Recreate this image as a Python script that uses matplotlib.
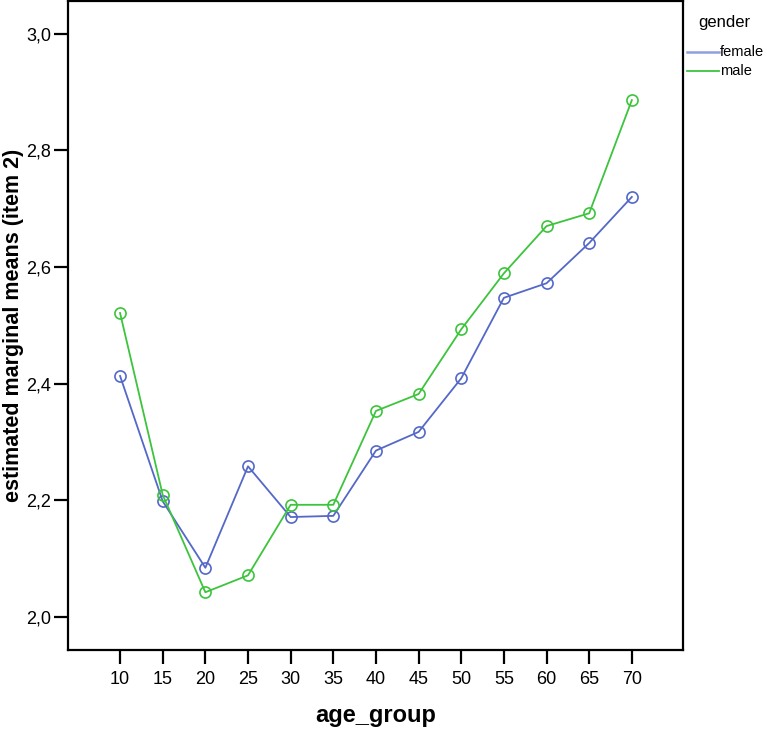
import matplotlib
matplotlib.use("Agg")
import matplotlib.pyplot as plt
import matplotlib.ticker as mticker
from matplotlib.lines import Line2D

plt.rcParams["font.family"] = ["Liberation Sans", "DejaVu Sans"]

age_groups = [10, 15, 20, 25, 30, 35, 40, 45, 50, 55, 60, 65, 70]
female = [2.413, 2.198, 2.084, 2.258, 2.171, 2.173, 2.285, 2.317, 2.409, 2.547, 2.572, 2.641, 2.720]
male = [2.521, 2.209, 2.042, 2.071, 2.192, 2.192, 2.353, 2.382, 2.493, 2.589, 2.670, 2.692, 2.886]
y_ticks = [2.0, 2.2, 2.4, 2.6, 2.8, 3.0]
series_names = ["female", "male"]

blue = "#5468c8"
green = "#3dc43d"

W, H = 767, 729
fig = plt.figure(figsize=(W / 100, H / 100), dpi=100)
ax = fig.add_axes([0.0887, 0.1084, 0.8018, 0.8902])

ax.plot(age_groups, female, color=blue, linewidth=1.3, marker="o", markersize=8,
        markerfacecolor="none", markeredgecolor=blue, markeredgewidth=1.2)
ax.plot(age_groups, male, color=green, linewidth=1.3, marker="o", markersize=8,
        markerfacecolor="none", markeredgecolor=green, markeredgewidth=1.2)

ax.set_xlim(3.9, 76.0)
ax.set_ylim(1.943, 3.056)
ax.set_xticks(age_groups)
ax.set_yticks(y_ticks)
ax.yaxis.set_major_formatter(mticker.FuncFormatter(lambda v, _: f"{v:.1f}".replace(".", ",")))

for s in ax.spines.values():
    s.set_linewidth(1.6)
ax.tick_params(axis="both", direction="out", length=10, width=1.6, labelsize=13)
ax.tick_params(axis="x", pad=5)
ax.tick_params(axis="y", pad=2)

ax.set_xlabel("age_group", fontsize=17, fontweight="bold", labelpad=12)
ax.set_ylabel("estimated marginal means (item 2)", fontsize=15.5, fontweight="bold", labelpad=2)

# legend drawn by hand, outside the axes on the right
fig.text(724 / W, 1 - 23 / H, "gender", fontsize=12, ha="center", va="center")
legend_colors = ["#8fa0e0", green]
legend_y = [52, 71]
for name, col, yy in zip(series_names, legend_colors, legend_y):
    fig.add_artist(Line2D([687 / W, 719 / W], [1 - yy / H, 1 - yy / H],
                          color=col, linewidth=1.8 if name == "female" else 1.3,
                          transform=fig.transFigure))
    fig.text(720 / W, 1 - yy / H, name, fontsize=10.5, ha="left", va="center")

fig.savefig("out.png", dpi=100)
plt.close(fig)
